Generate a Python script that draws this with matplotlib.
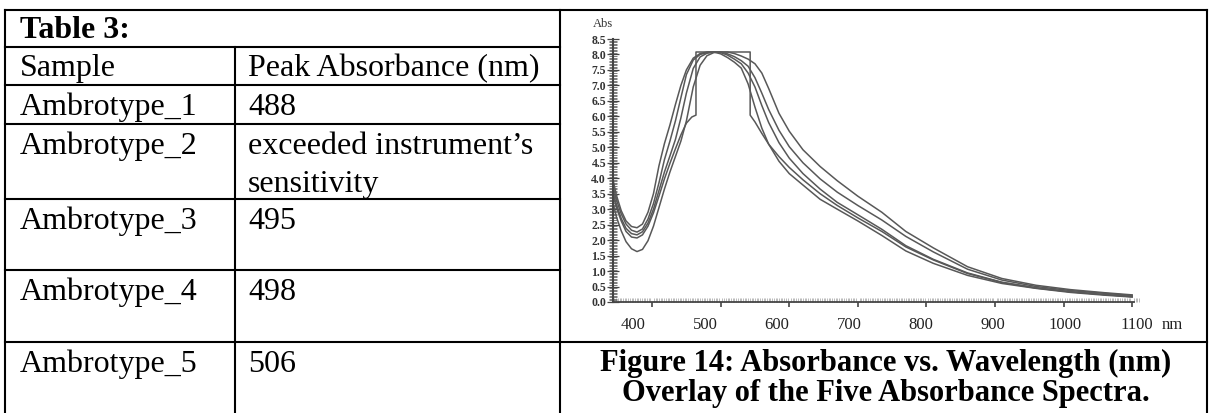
import matplotlib.pyplot as plt
from matplotlib.ticker import MultipleLocator

plt.rcParams['font.family'] = 'Liberation Serif'

W, H = 1209, 413

# table text
table_title = 'Table 3:'
headers = ['Sample', 'Peak Absorbance (nm)']
samples = ['Ambrotype_1', 'Ambrotype_2', 'Ambrotype_3', 'Ambrotype_4', 'Ambrotype_5']
peaks = ['488', 'exceeded instrument\u2019s\nsensitivity', '495', '498', '506']
caption = ['Figure 14: Absorbance vs. Wavelength (nm)',
           'Overlay of the Five Absorbance Spectra.']

# spectra (Abs vs nm)
wl = [343, 348, 355, 362, 370, 378, 386, 394, 402, 410,
      418, 426, 434, 442, 450, 460, 470, 480, 490, 500,
      510, 520, 530, 540, 550, 560, 570, 585, 600, 620,
      645, 670, 700, 735, 770, 810, 860, 910, 960, 1010,
      1060, 1100]
abs_1 = [3.95, 3.45, 2.95, 2.62, 2.44, 2.40, 2.52, 2.90, 3.50, 4.40,
         5.12, 5.72, 6.38, 7.00, 7.50, 7.88, 8.03, 8.08, 8.08, 8.02,
         7.90, 7.75, 7.56, 7.05, 6.30, 5.62, 5.10, 4.55, 4.15, 3.78,
         3.32, 3.00, 2.62, 2.15, 1.65, 1.25, 0.86, 0.60, 0.44, 0.31,
         0.22, 0.16]
abs_3 = [3.75, 3.30, 2.85, 2.52, 2.32, 2.26, 2.36, 2.68, 3.18, 3.85,
         4.60, 5.20, 5.85, 6.60, 7.35, 7.82, 8.00, 8.06, 8.08, 8.06,
         7.98, 7.85, 7.70, 7.40, 6.95, 6.35, 5.80, 5.15, 4.65, 4.15,
         3.65, 3.22, 2.82, 2.35, 1.82, 1.38, 0.94, 0.64, 0.46, 0.33,
         0.24, 0.18]
abs_4 = [3.55, 3.15, 2.70, 2.38, 2.21, 2.17, 2.27, 2.55, 3.00, 3.60,
         4.20, 4.72, 5.25, 5.95, 6.75, 7.55, 7.92, 8.04, 8.08, 8.08,
         8.02, 7.93, 7.80, 7.62, 7.25, 6.75, 6.22, 5.55, 5.02, 4.50,
         3.98, 3.55, 3.12, 2.65, 2.12, 1.62, 1.06, 0.71, 0.50, 0.37,
         0.28, 0.21]
abs_5 = [3.20, 2.75, 2.30, 1.95, 1.72, 1.63, 1.70, 1.98, 2.45, 3.05,
         3.65, 4.20, 4.70, 5.20, 5.85, 6.95, 7.65, 7.96, 8.06, 8.08,
         8.08, 8.03, 7.95, 7.85, 7.70, 7.40, 6.90, 6.10, 5.52, 4.92,
         4.38, 3.92, 3.42, 2.90, 2.28, 1.75, 1.14, 0.76, 0.54, 0.40,
         0.30, 0.23]
# Ambrotype_2 saturates: flat top between the two jumps
wl_2 = [343, 348, 355, 362, 370, 378, 386, 394, 402, 410,
        418, 426, 434, 442, 450, 458, 464, 464, 543, 543,
        550, 560, 570, 585, 600, 620, 645, 670, 700, 735,
        770, 810, 860, 910, 960, 1010, 1060, 1100]
abs_2 = [3.45, 3.05, 2.62, 2.28, 2.10, 2.07, 2.17, 2.45, 2.88, 3.42,
         3.98, 4.48, 4.95, 5.40, 5.78, 5.98, 6.04, 8.08, 8.08, 6.04,
         5.82, 5.45, 5.10, 4.70, 4.35, 3.95, 3.50, 3.12, 2.72, 2.28,
         1.78, 1.36, 0.92, 0.63, 0.45, 0.33, 0.24, 0.17]

x_ticks = [400, 500, 600, 700, 800, 900, 1000, 1100]
y_ticks = [0.0, 0.5, 1.0, 1.5, 2.0, 2.5, 3.0, 3.5, 4.0,
           4.5, 5.0, 5.5, 6.0, 6.5, 7.0, 7.5, 8.0, 8.5]

fig = plt.figure(figsize=(W / 100, H / 100), dpi=100)

# page layer in pixel units for the table
lay = fig.add_axes([0, 0, 1, 1])
lay.set_xlim(0, W)
lay.set_ylim(H, 0)
lay.axis('off')

lw = 1.5
row_tops = [10, 47, 85, 124, 199, 270, 342]
for i, y in enumerate(row_tops):
    x1 = 1207 if i in (0, len(row_tops) - 1) else 560
    lay.plot([5, x1], [y, y], color='black', lw=lw, solid_capstyle='projecting')
for x, y0 in [(5, 10), (235, 47), (560, 10), (1207, 10)]:
    lay.plot([x, x], [y0, H], color='black', lw=lw, solid_capstyle='projecting')

fs = 23
lay.text(20, row_tops[0] + 28, table_title, fontsize=fs, fontweight='bold', va='baseline')
lay.text(20, row_tops[1] + 29, headers[0], fontsize=fs, va='baseline')
lay.text(248, row_tops[1] + 29, headers[1], fontsize=fs, va='baseline')
for i, (s, p) in enumerate(zip(samples, peaks)):
    base = row_tops[i + 2] + 30
    lay.text(20, base, s, fontsize=fs, va='baseline')
    for j, line in enumerate(p.split('\n')):
        lay.text(248, base + 38 * j, line, fontsize=fs, va='baseline')

for j, line in enumerate(caption):
    lay.text(886, 371 + 30 * j, line, fontsize=22, fontweight='bold',
             ha='center', va='baseline')

# spectrum panel
ax = fig.add_axes([613 / W, 1 - 302 / H, (1139 - 613) / W, (302 - 39) / H])
ax.set_xlim(343, 1110)
ax.set_ylim(0, 8.5)

line_kw = dict(color='#585858', lw=1.1)
for y in (abs_1, abs_3, abs_4, abs_5):
    ax.plot(wl, y, **line_kw)
ax.plot(wl_2, abs_2, **line_kw)

for side in ('top', 'right'):
    ax.spines[side].set_visible(False)
ax.spines['left'].set_color('#444444')
ax.spines['left'].set_linewidth(1.5)
ax.spines['bottom'].set_color('#444444')
ax.spines['bottom'].set_linewidth(1.3)
ax.spines['bottom'].set_bounds(343, 1102)

ax.set_xticks(x_ticks)
ax.xaxis.set_minor_locator(MultipleLocator(2.5))
ax.tick_params(axis='x', which='major', direction='out', length=3.5, width=1.2,
               color='#444444', labelbottom=False)
ax.tick_params(axis='x', which='minor', direction='in', length=3, width=0.5,
               color='#a0a0a0')

ax.set_yticks(y_ticks)
ax.set_yticklabels([f'{v:.1f}' for v in y_ticks])
ax.yaxis.set_minor_locator(MultipleLocator(0.05))
ax.tick_params(axis='y', which='major', direction='inout', length=8, width=0.9,
               color='#444444', labelsize=8.5, pad=1, labelcolor='#333333')
ax.tick_params(axis='y', which='minor', direction='inout', length=6, width=0.6,
               color='#666666')
for t in ax.get_yticklabels():
    t.set_fontweight('bold')

# wavelength labels sit a little off the tick marks in the scan
sec = ax.secondary_xaxis('bottom',
                         functions=(lambda x: 400 + (x - 372.3) / 1.0496,
                                    lambda v: 372.3 + (v - 400) * 1.0496))
sec.set_xticks(x_ticks)
sec.tick_params(length=0, pad=11, labelsize=12, labelcolor='#222222')
sec.spines['bottom'].set_visible(False)

lay.text(1162, 325, 'nm', fontsize=12, va='center', color='#222222')
lay.text(603, 24, 'Abs', fontsize=9, ha='center', va='center', color='#333333')

fig.savefig('out.png', dpi=100)
